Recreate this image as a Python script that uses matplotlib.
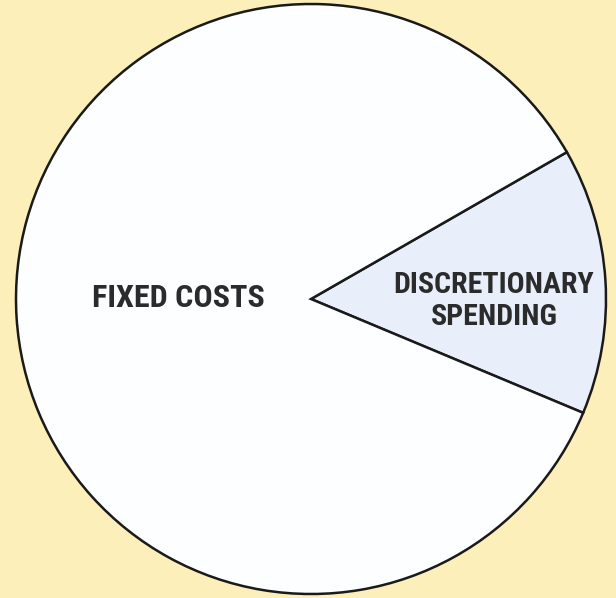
import matplotlib
matplotlib.use("Agg")
import matplotlib.pyplot as plt

labels = ["DISCRETIONARY\nSPENDING", "FIXED COSTS"]
shares = [14.6, 85.4]
colors = ["#e8eefa", "#fdfeff"]

W, H = 616, 598
cx, cy, r = 311, 299, 295

fig = plt.figure(figsize=(W / 100, H / 100), dpi=100)
fig.patch.set_facecolor("#fcefb9")
ax = fig.add_axes([0, 0, 1, 1])
ax.set_facecolor("none")

wedges, _ = ax.pie(shares, colors=colors, startangle=-22.7, radius=1,
                   wedgeprops=dict(edgecolor="#1a1a1a", linewidth=1.8))

# map pixels -> data so the circle sits where it does in the picture
ax.set_xlim(-cx / r, (W - cx) / r)
ax.set_ylim(-(H - cy) / r, cy / r)
ax.set_aspect("auto")
ax.axis("off")

font = dict(family=["DejaVu Sans Condensed", "Roboto Condensed", "Liberation Sans Narrow",
                    "DejaVu Sans"],
            stretch="condensed", weight="bold",
            color="#2b2b2b", ha="center", va="center")
ax.text((178 - cx) / r, (cy - 298) / r, labels[1], fontsize=23, **font)
ax.text((494 - cx) / r, (cy - 301) / r, labels[0], fontsize=21.5, linespacing=1.22, **font)

fig.savefig("out.png", dpi=100, facecolor=fig.get_facecolor())
